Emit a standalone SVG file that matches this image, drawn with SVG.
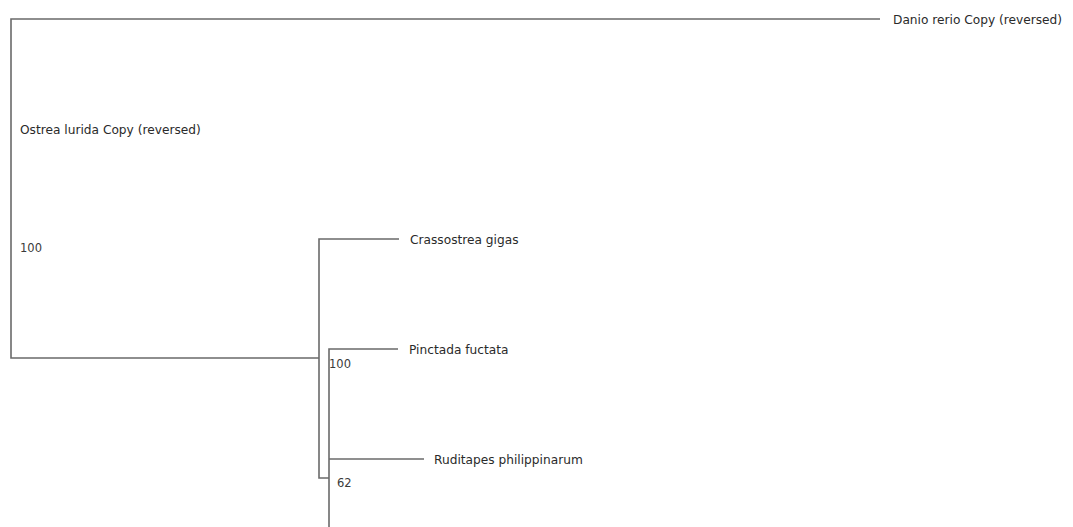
<svg xmlns="http://www.w3.org/2000/svg" width="1073" height="527" viewBox="0 0 1073 527">
<style>
.e{stroke:#6a6a6a;stroke-width:1.6;fill:none}
.t{font-family:"DejaVu Sans","Liberation Sans",sans-serif;font-size:12.2px;fill:#2a2a2a}
.s{font-family:"DejaVu Sans","Liberation Sans",sans-serif;font-size:11.5px;fill:#3a3a3a}
</style>
<rect width="1073" height="527" fill="#fff"/>
<g id="connectors">
<path class="e" d="M880,19 H11 V358 H319"/>
<path class="e" d="M399,239 H319 V478 H329"/>
<path class="e" d="M398,349 H329 V527"/>
<path class="e" d="M329,459 H424"/>
</g>
<g id="danio"><text class="t" x="893" y="23.5">Danio rerio Copy (reversed)</text></g>
<g id="ostrea"><text class="t" x="20" y="134">Ostrea lurida Copy (reversed)</text></g>
<g id="root-support"><text class="s" x="20" y="252">100</text></g>
<g id="crassostrea"><text class="t" x="410" y="243.5">Crassostrea gigas</text></g>
<g id="pinctada"><text class="t" x="409" y="353.5">Pinctada fuctata</text></g>
<g id="pinctada-support"><text class="s" x="329" y="367.5">100</text></g>
<g id="ruditapes"><text class="t" x="434" y="463.5">Ruditapes philippinarum</text></g>
<g id="ruditapes-support"><text class="s" x="337" y="486.5">62</text></g>
</svg>
